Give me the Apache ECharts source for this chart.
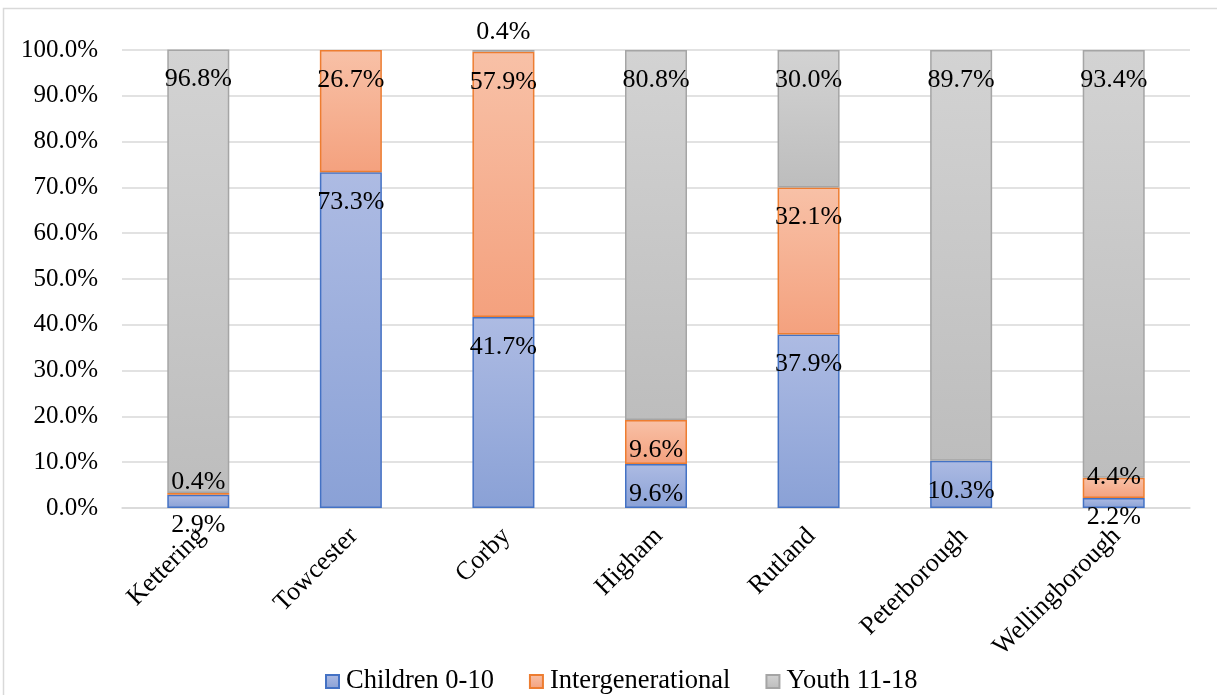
<!DOCTYPE html>
<html>
<head>
<meta charset="utf-8">
<script src="https://cdn.jsdelivr.net/npm/echarts@6/dist/echarts.min.js"></script>
<style>
  html, body { margin: 0; padding: 0; background: #ffffff; }
  #chart { width: 1217px; height: 695px; }
</style>
</head>
<body>
<div id="chart"></div>
<script>
// Share of participants by age group at each site (%)
const categories = ['Kettering', 'Towcester', 'Corby', 'Higham', 'Rutland', 'Peterborough', 'Wellingborough'];
const children = [2.9, 73.3, 41.7, 9.6, 37.9, 10.3, 2.2];
const intergenerational = [0.4, 26.7, 57.9, 9.6, 32.1, 0, 4.4];
const youth = [96.8, 0, 0.4, 80.8, 30.0, 89.7, 93.4];
const seriesNames = ['Children 0-10', 'Intergenerational', 'Youth 11-18'];

// Label placement: distance of the label centre below each segment top,
// with a few adjustments for the very thin segments.
const LABEL_DROP = 30;
const labelNudge = {
  'Children 0-10': { Wellingborough: 19 },
  'Intergenerational': { Kettering: -11, Wellingborough: -1 },
  'Youth 11-18': { Corby: -18 }
};

const FONT = '"Liberation Serif", "Times New Roman", serif';

const palette = {
  'Children 0-10': { top: '#adbbe3', bottom: '#8aa1d6', border: '#4472c4' },
  'Intergenerational': { top: '#f8c1a7', bottom: '#f4a17e', border: '#ed7d31' },
  'Youth 11-18': { top: '#d3d3d3', bottom: '#bdbdbd', border: '#a5a5a5' }
};

function fillFor(name) {
  const p = palette[name];
  return new echarts.graphic.LinearGradient(0, 0, 0, 1, [
    { offset: 0, color: p.top },
    { offset: 1, color: p.bottom }
  ]);
}

function buildSeries(name, values) {
  const nudges = labelNudge[name] || {};
  return {
    name: name,
    type: 'bar',
    stack: 'total',
    barWidth: 62,
    itemStyle: {
      color: fillFor(name),
      borderColor: palette[name].border,
      borderWidth: 1.5
    },
    label: {
      show: true,
      position: ['50%', LABEL_DROP],
      align: 'center',
      verticalAlign: 'middle',
      color: '#000000',
      fontFamily: FONT,
      fontSize: 26,
      formatter: p => p.value.toFixed(1) + '%'
    },
    data: values.map((v, i) => {
      if (v === 0) return '-';
      const cat = categories[i];
      if (cat in nudges) {
        return { value: v, label: { position: ['50%', nudges[cat]] } };
      }
      return v;
    })
  };
}

const chart = echarts.init(document.getElementById('chart'), null, { renderer: 'canvas' });

chart.setOption({
  animation: false,
  backgroundColor: '#ffffff',
  graphic: [{
    type: 'rect',
    shape: { x: 3.5, y: 8.5, width: 1300, height: 800 },
    style: { fill: 'none', stroke: '#d9d9d9', lineWidth: 1.5 },
    silent: true,
    z: -10
  }],
  grid: { left: 122, right: 27, top: 50, bottom: 187, containLabel: false },
  legend: {
    data: seriesNames,
    left: 320,
    top: 663,
    icon: 'rect',
    itemWidth: 13,
    itemHeight: 13,
    itemGap: 35,
    textStyle: { fontFamily: FONT, fontSize: 26.5, color: '#000000', padding: [0, 0, 0, 2] }
  },
  xAxis: {
    type: 'category',
    data: categories,
    axisLine: { show: true, lineStyle: { color: '#d9d9d9', width: 1.5 } },
    axisTick: { show: false },
    axisLabel: {
      rotate: 45,
      margin: 27,
      interval: 0,
      color: '#000000',
      fontFamily: FONT,
      fontSize: 26,
      padding: [0, -4, 0, 0]
    }
  },
  yAxis: {
    type: 'value',
    min: 0,
    max: 100,
    interval: 10,
    axisLine: { show: false },
    axisTick: { show: false },
    splitLine: { lineStyle: { color: '#d9d9d9', width: 1.5 } },
    axisLabel: {
      margin: 24,
      color: '#000000',
      fontFamily: FONT,
      fontSize: 25,
      formatter: v => v.toFixed(1) + '%'
    }
  },
  series: [
    buildSeries('Children 0-10', children),
    buildSeries('Intergenerational', intergenerational),
    buildSeries('Youth 11-18', youth)
  ]
});
</script>
</body>
</html>
